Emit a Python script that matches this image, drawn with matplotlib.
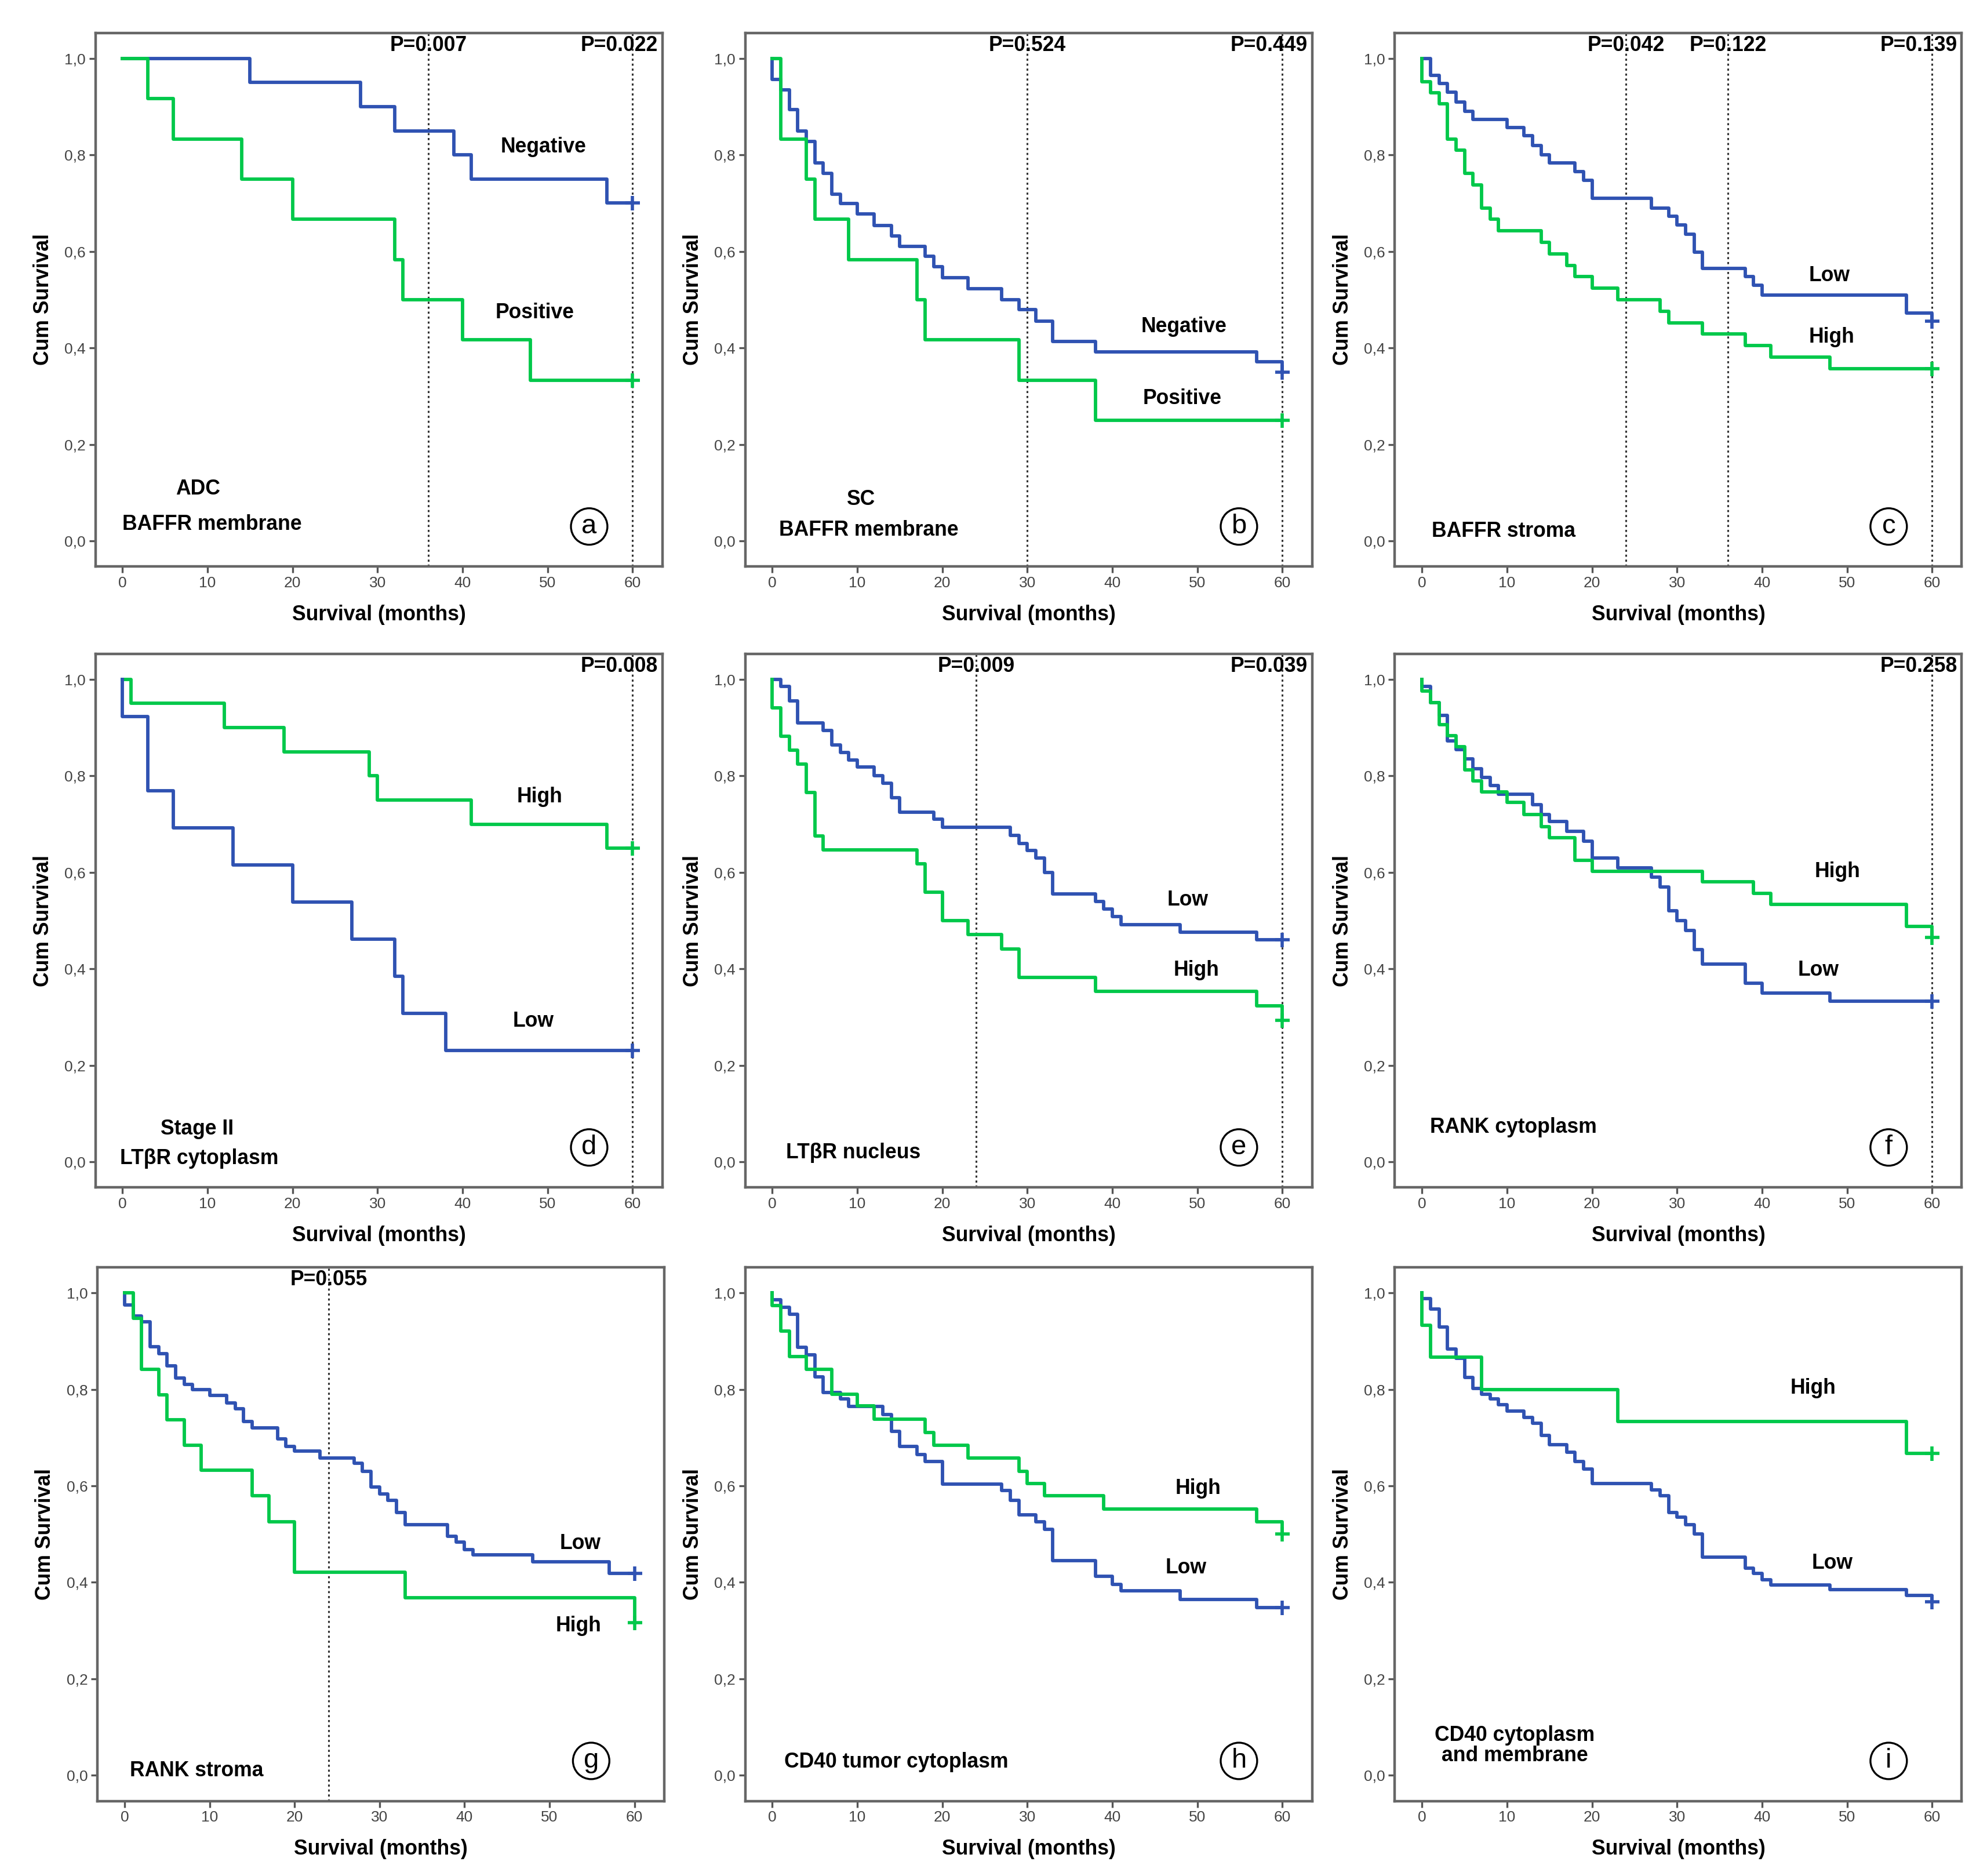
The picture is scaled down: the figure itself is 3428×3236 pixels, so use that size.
import matplotlib
matplotlib.use("Agg")
import matplotlib.pyplot as plt

plt.rcParams['font.family'] = ['Liberation Sans', 'DejaVu Sans']

# ---- data: event times (months) and cumulative survival after each event ----
# (a) ADC, BAFFR membrane
a_neg_t = [0, 15, 28, 32, 39, 41, 57]
a_neg_s = [1.0, 0.95, 0.90, 0.85, 0.80, 0.75, 0.70]
a_pos_t = [0, 3, 6, 14, 20, 32, 33, 40, 48]
a_pos_s = [1.0, 0.917, 0.833, 0.75, 0.667, 0.583, 0.50, 0.417, 0.333]

# (b) SC, BAFFR membrane
b_neg_t = [0, 0, 1, 2, 3, 4, 5, 6, 7, 8, 10, 12, 14, 15, 18, 19, 20, 23, 27, 29, 31, 33, 38, 57, 60]
b_neg_s = [1.0, 0.956, 0.935, 0.894, 0.849, 0.828, 0.784, 0.762, 0.718, 0.699, 0.678, 0.654, 0.632,
           0.611, 0.590, 0.569, 0.546, 0.523, 0.500, 0.479, 0.456, 0.414, 0.392, 0.371, 0.350]
b_pos_t = [0, 1, 4, 5, 9, 17, 18, 29, 38]
b_pos_s = [1.0, 0.833, 0.75, 0.667, 0.583, 0.50, 0.417, 0.333, 0.25]

# (c) BAFFR stroma
c_low_t = [0, 1, 2, 3, 4, 5, 6, 10, 12, 13, 14, 15, 18, 19, 20, 27, 29, 30, 31, 32, 33, 38, 39, 40, 57, 60]
c_low_s = [1.0, 0.965, 0.948, 0.930, 0.910, 0.890, 0.874, 0.857, 0.840, 0.820, 0.800, 0.783, 0.766,
           0.748, 0.710, 0.690, 0.673, 0.655, 0.636, 0.598, 0.565, 0.548, 0.530, 0.510, 0.472, 0.455]
c_high_t = [0, 0, 1, 2, 3, 4, 5, 6, 7, 8, 9, 14, 15, 17, 18, 20, 23, 28, 29, 33, 38, 41, 48]
c_high_s = [1.0, 0.952, 0.929, 0.906, 0.833, 0.810, 0.762, 0.738, 0.690, 0.667, 0.643, 0.619, 0.595,
            0.571, 0.548, 0.524, 0.500, 0.476, 0.452, 0.429, 0.405, 0.381, 0.357]

# (d) Stage II, LTbR cytoplasm
d_high_t = [0, 1, 12, 19, 29, 30, 41, 57]
d_high_s = [1.0, 0.95, 0.90, 0.85, 0.80, 0.75, 0.70, 0.65]
d_low_t = [0, 0, 3, 6, 13, 20, 27, 32, 33, 38]
d_low_s = [1.0, 0.923, 0.769, 0.692, 0.615, 0.538, 0.462, 0.385, 0.308, 0.231]

# (e) LTbR nucleus
e_low_t = [0, 1, 2, 3, 6, 7, 8, 9, 10, 12, 13, 14, 15, 19, 20, 28, 29, 30, 31, 32, 33, 38, 39, 40, 41, 48, 57]
e_low_s = [1.0, 0.985, 0.955, 0.910, 0.894, 0.864, 0.848, 0.833, 0.818, 0.800, 0.785, 0.755, 0.725,
           0.710, 0.694, 0.677, 0.660, 0.645, 0.630, 0.600, 0.555, 0.540, 0.524, 0.508, 0.492, 0.476, 0.460]
e_high_t = [0, 0, 1, 2, 3, 4, 5, 6, 17, 18, 20, 23, 27, 29, 38, 57, 60]
e_high_s = [1.0, 0.941, 0.882, 0.853, 0.824, 0.765, 0.676, 0.647, 0.618, 0.559, 0.500, 0.471, 0.441,
            0.382, 0.353, 0.324, 0.294]

# (f) RANK cytoplasm
f_low_t = [0, 0, 1, 2, 3, 4, 5, 6, 7, 8, 9, 13, 14, 15, 17, 19, 20, 23, 27, 28, 29, 30, 31, 32, 33, 38, 40, 48]
f_low_s = [1.0, 0.985, 0.952, 0.925, 0.873, 0.855, 0.835, 0.815, 0.797, 0.780, 0.762, 0.740, 0.720, 0.705,
           0.685, 0.665, 0.630, 0.610, 0.590, 0.570, 0.520, 0.500, 0.480, 0.440, 0.410, 0.370, 0.350, 0.333]
f_high_t = [0, 0, 1, 2, 3, 4, 5, 6, 7, 10, 12, 14, 15, 18, 20, 33, 39, 41, 57, 60]
f_high_s = [1.0, 0.976, 0.952, 0.906, 0.883, 0.860, 0.813, 0.790, 0.767, 0.745, 0.720, 0.695, 0.672,
            0.625, 0.602, 0.580, 0.557, 0.534, 0.488, 0.465]

# (g) RANK stroma
g_low_t = [0, 0, 1, 2, 3, 4, 5, 6, 7, 8, 10, 12, 13, 14, 15, 18, 19, 20, 23, 27, 28, 29, 30, 31, 32, 33,
           38, 39, 40, 41, 48, 57]
g_low_s = [1.0, 0.975, 0.952, 0.940, 0.888, 0.874, 0.849, 0.824, 0.810, 0.800, 0.787, 0.772, 0.760,
           0.733, 0.720, 0.697, 0.682, 0.672, 0.658, 0.647, 0.630, 0.598, 0.583, 0.570, 0.545, 0.520,
           0.495, 0.483, 0.468, 0.457, 0.443, 0.418]
g_high_t = [0, 1, 2, 4, 5, 7, 9, 15, 17, 20, 33, 60]
g_high_s = [1.0, 0.947, 0.842, 0.789, 0.737, 0.684, 0.632, 0.579, 0.526, 0.421, 0.368, 0.316]

# (h) CD40 tumor cytoplasm
h_low_t = [0, 0, 1, 2, 3, 4, 5, 6, 8, 9, 13, 14, 15, 17, 18, 20, 27, 28, 29, 31, 32, 33, 38, 40, 41, 48, 57]
h_low_s = [1.0, 0.986, 0.970, 0.955, 0.887, 0.872, 0.826, 0.794, 0.780, 0.764, 0.748, 0.713, 0.682,
           0.665, 0.650, 0.604, 0.590, 0.570, 0.540, 0.525, 0.510, 0.445, 0.413, 0.396, 0.383, 0.365, 0.348]
h_high_t = [0, 0, 1, 2, 4, 7, 10, 12, 18, 19, 23, 29, 30, 32, 39, 57, 60]
h_high_s = [1.0, 0.974, 0.921, 0.868, 0.842, 0.790, 0.766, 0.738, 0.711, 0.684, 0.658, 0.630, 0.605,
            0.579, 0.552, 0.526, 0.500]

# (i) CD40 cytoplasm and membrane
i_low_t = [0, 0, 1, 2, 3, 4, 5, 6, 7, 8, 9, 10, 12, 13, 14, 15, 17, 18, 19, 20, 27, 28, 29, 30, 31, 32,
           33, 38, 39, 40, 41, 48, 57, 60]
i_low_s = [1.0, 0.988, 0.967, 0.929, 0.884, 0.864, 0.825, 0.802, 0.790, 0.780, 0.768, 0.755, 0.742,
           0.730, 0.705, 0.685, 0.670, 0.650, 0.635, 0.605, 0.592, 0.580, 0.545, 0.535, 0.520, 0.500,
           0.452, 0.430, 0.418, 0.405, 0.395, 0.385, 0.373, 0.360]
i_high_t = [0, 0, 1, 7, 23, 57]
i_high_s = [1.0, 0.933, 0.867, 0.800, 0.733, 0.667]

# p values at the marked time points
a_pvals = [(36, "P=0.007"), (60, "P=0.022")]
b_pvals = [(30, "P=0.524"), (60, "P=0.449")]
c_pvals = [(24, "P=0.042"), (36, "P=0.122"), (60, "P=0.139")]
d_pvals = [(60, "P=0.008")]
e_pvals = [(24, "P=0.009"), (60, "P=0.039")]
f_pvals = [(60, "P=0.258")]
g_pvals = [(24, "P=0.055")]

BLUE = '#2F52B2'
GREEN = '#00C84A'

panels = [
    dict(letter='a', pos=(0.048, 0.698),
         curves=[(a_neg_t, a_neg_s, BLUE), (a_pos_t, a_pos_s, GREEN)],
         pvals=a_pvals,
         labels=[("Negative", 49.5, 0.817), ("Positive", 48.5, 0.473)],
         notes=[("ADC", 8.9, 0.108, 'center'), ("BAFFR membrane", 0.0, 0.035, 'left')]),
    dict(letter='b', pos=(0.375, 0.698),
         curves=[(b_neg_t, b_neg_s, BLUE), (b_pos_t, b_pos_s, GREEN)],
         pvals=b_pvals,
         labels=[("Negative", 48.4, 0.444), ("Positive", 48.2, 0.295)],
         notes=[("SC", 10.4, 0.086, 'center'), ("BAFFR membrane", 0.8, 0.023, 'left')]),
    dict(letter='c', pos=(0.702, 0.698),
         curves=[(c_low_t, c_low_s, BLUE), (c_high_t, c_high_s, GREEN)],
         pvals=c_pvals,
         labels=[("Low", 47.9, 0.55), ("High", 48.2, 0.423)],
         notes=[("BAFFR stroma", 1.1, 0.02, 'left')]),
    dict(letter='d', pos=(0.048, 0.367),
         curves=[(d_high_t, d_high_s, GREEN), (d_low_t, d_low_s, BLUE)],
         pvals=d_pvals,
         labels=[("High", 49.1, 0.756), ("Low", 48.3, 0.292)],
         notes=[("Stage II", 8.8, 0.068, 'center'), ("LT\u03b2R cytoplasm", -0.3, 0.007, 'left')]),
    dict(letter='e', pos=(0.375, 0.367),
         curves=[(e_low_t, e_low_s, BLUE), (e_high_t, e_high_s, GREEN)],
         pvals=e_pvals,
         labels=[("Low", 48.9, 0.543), ("High", 49.9, 0.397)],
         notes=[("LT\u03b2R nucleus", 1.6, 0.019, 'left')]),
    dict(letter='f', pos=(0.702, 0.367),
         curves=[(f_low_t, f_low_s, BLUE), (f_high_t, f_high_s, GREEN)],
         pvals=f_pvals,
         labels=[("High", 48.9, 0.601), ("Low", 46.6, 0.397)],
         notes=[("RANK cytoplasm", 0.9, 0.072, 'left')]),
    dict(letter='g', pos=(0.049, 0.040),
         curves=[(g_low_t, g_low_s, BLUE), (g_high_t, g_high_s, GREEN)],
         pvals=g_pvals,
         labels=[("Low", 53.6, 0.481), ("High", 53.4, 0.31)],
         notes=[("RANK stroma", 0.6, 0.01, 'left')]),
    dict(letter='h', pos=(0.375, 0.040),
         curves=[(h_low_t, h_low_s, BLUE), (h_high_t, h_high_s, GREEN)],
         pvals=[],
         labels=[("High", 50.1, 0.594), ("Low", 48.7, 0.43)],
         notes=[("CD40 tumor cytoplasm", 1.4, 0.028, 'left')]),
    dict(letter='i', pos=(0.702, 0.040),
         curves=[(i_low_t, i_low_s, BLUE), (i_high_t, i_high_s, GREEN)],
         pvals=[],
         labels=[("High", 46.0, 0.802), ("Low", 48.3, 0.44)],
         notes=[("CD40 cytoplasm\nand membrane", 10.9, 0.062, 'center')]),
]

fig = plt.figure(figsize=(17.14, 16.18), dpi=200)
W, H = 0.2853, 0.2845

for p in panels:
    ax = fig.add_axes([p['pos'][0], p['pos'][1], W, H])
    ax.set_xlim(-3.2, 63.5)
    ax.set_ylim(-0.053, 1.053)

    # dotted reference lines + p values
    for x, txt in p['pvals']:
        ax.axvline(x, color='#333333', lw=1.1, ls=(0, (1.2, 1.6)), zorder=1)
        if x == 60:
            ax.text(63.0, 1.027, txt, ha='right', va='center', fontsize=12.8, fontweight='bold')
        else:
            ax.text(x, 1.027, txt, ha='center', va='center', fontsize=12.8, fontweight='bold')

    # KM curves, censored at 60 months
    for t, s, col in p['curves']:
        xs = list(t) + [60]
        ys = list(s) + [s[-1]]
        ax.step(xs, ys, where='post', color=col, lw=2.1, zorder=3)
        ax.plot([60], [s[-1]], marker='+', color=col, ms=9, mew=2, zorder=4)

    for txt, x, y in p['labels']:
        ax.text(x, y, txt, ha='center', va='center', fontsize=12.8, fontweight='bold')
    for txt, x, y, ha in p['notes']:
        ax.text(x, y, txt, ha=ha, va='center', fontsize=12.8, fontweight='bold',
                multialignment='center', linespacing=1.0)

    ax.text(54.9, 0.03, p['letter'], ha='center', va='center', fontsize=17,
            bbox=dict(boxstyle='circle,pad=0.2', fc='white', ec='black', lw=1.2))

    ax.set_xticks(range(0, 61, 10))
    ax.set_yticks([0, 0.2, 0.4, 0.6, 0.8, 1.0])
    ax.set_yticklabels(["0,0", "0,2", "0,4", "0,6", "0,8", "1,0"])
    ax.tick_params(direction='out', length=4, width=1.2, color='#555555',
                   labelsize=9.5, labelcolor='#444444', pad=2)
    for sp in ax.spines.values():
        sp.set_color('#666666')
        sp.set_linewidth(1.6)
    ax.set_xlabel("Survival (months)", fontsize=12.8, fontweight='bold', labelpad=9)
    ax.set_ylabel("Cum Survival", fontsize=12.8, fontweight='bold', labelpad=7)

fig.savefig("out.png", dpi=200)
